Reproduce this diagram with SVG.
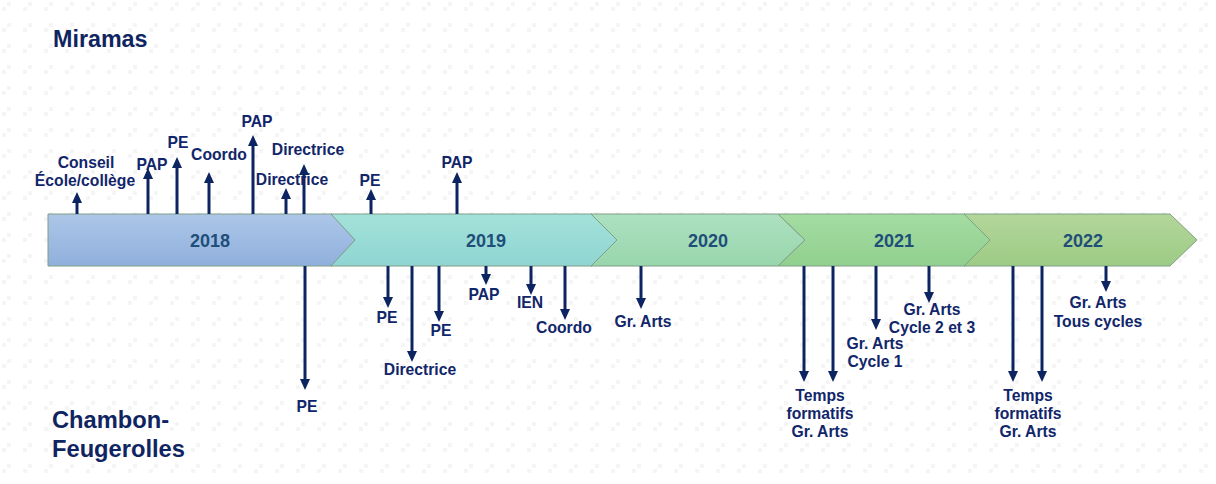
<svg xmlns="http://www.w3.org/2000/svg" width="1216" height="484" viewBox="0 0 1216 484">
<style>
.lbl{font-family:"Liberation Sans",Arial,sans-serif;font-weight:bold;font-size:15.7px;fill:#11266a;text-anchor:middle}
.yr{font-family:"Liberation Sans",Arial,sans-serif;font-weight:bold;font-size:18px;fill:#1f4e79;text-anchor:middle}
.site{font-family:"Liberation Sans",Arial,sans-serif;font-weight:bold;fill:#0f2561}
.arr{stroke:#0c2461;stroke-width:3;fill:none;marker-end:url(#ah)}
.seg{stroke:#7f9f86;stroke-width:1}
</style>
<defs>
<pattern id="bg" width="21" height="21" patternUnits="userSpaceOnUse">
<rect x="7" y="2" width="4" height="4" fill="#f5f5f5"/>
<rect x="2" y="7" width="4" height="4" fill="#f5f5f5"/>
</pattern>
<marker id="ah" viewBox="0 0 11 10" refX="2" refY="5" markerWidth="11" markerHeight="10" markerUnits="userSpaceOnUse" orient="auto">
<path d="M0,0 L11,5 L0,10 Z" fill="#0c2461"/>
</marker>
<linearGradient id="g18" x1="0" y1="0" x2="0" y2="1"><stop offset="0" stop-color="#adc6e8"/><stop offset="1" stop-color="#8fb0dc"/></linearGradient>
<linearGradient id="g19" x1="0" y1="0" x2="0" y2="1"><stop offset="0" stop-color="#a3e2da"/><stop offset="1" stop-color="#8fd5d2"/></linearGradient>
<linearGradient id="g20" x1="0" y1="0" x2="0" y2="1"><stop offset="0" stop-color="#ade0c0"/><stop offset="1" stop-color="#98d6ad"/></linearGradient>
<linearGradient id="g21" x1="0" y1="0" x2="0" y2="1"><stop offset="0" stop-color="#a5dca2"/><stop offset="1" stop-color="#90d08e"/></linearGradient>
<linearGradient id="g22" x1="0" y1="0" x2="0" y2="1"><stop offset="0" stop-color="#b3d69b"/><stop offset="1" stop-color="#9dcb84"/></linearGradient>
</defs>
<rect width="1216" height="484" fill="#ffffff"/>
<rect width="1216" height="484" fill="url(#bg)"/>

<g id="site-miramas"><text class="site" x="53" y="47" font-size="23.3">Miramas</text></g>
<g id="site-chambon"><text class="site" x="52" y="428" font-size="23.7">Chambon-</text><text class="site" x="52" y="457" font-size="23.7">Feugerolles</text></g>

<g id="y2018"><path class="seg" d="M48,214 L332,214 L355,240 L332,266 L48,266 Z" fill="url(#g18)"/><text class="yr" x="210" y="247">2018</text></g>
<g id="y2019"><path class="seg" d="M331,214 L592,214 L617,240 L592,266 L331,266 L355,240 Z" fill="url(#g19)"/><text class="yr" x="486" y="247">2019</text></g>
<g id="y2020"><path class="seg" d="M591,214 L778,214 L805,240 L778,266 L591,266 L617,240 Z" fill="url(#g20)"/><text class="yr" x="708" y="247">2020</text></g>
<g id="y2021"><path class="seg" d="M778,214 L965,214 L992,240 L965,266 L778,266 L805,240 Z" fill="url(#g21)"/><text class="yr" x="894" y="247">2021</text></g>
<g id="y2022"><path class="seg" d="M964,214 L1170,214 L1197,240 L1170,266 L964,266 L990,240 Z" fill="url(#g22)"/><text class="yr" x="1083" y="247">2022</text></g>

<g id="connectors">
<line class="arr" x1="77" y1="214" x2="77" y2="201"/>
<line class="arr" x1="148" y1="214" x2="148" y2="177"/>
<line class="arr" x1="177" y1="214" x2="177" y2="166"/>
<line class="arr" x1="209" y1="214" x2="209" y2="181"/>
<line class="arr" x1="253" y1="214" x2="253" y2="144"/>
<line class="arr" x1="286" y1="214" x2="286" y2="197"/>
<line class="arr" x1="304" y1="214" x2="304" y2="173"/>
<line class="arr" x1="371" y1="214" x2="371" y2="198"/>
<line class="arr" x1="457" y1="214" x2="457" y2="181"/>
<line class="arr" x1="305" y1="266" x2="305" y2="381"/>
<line class="arr" x1="388" y1="266" x2="388" y2="299"/>
<line class="arr" x1="412" y1="266" x2="412" y2="353"/>
<line class="arr" x1="439" y1="266" x2="439" y2="313"/>
<line class="arr" x1="486" y1="266" x2="486" y2="276"/>
<line class="arr" x1="531" y1="266" x2="531" y2="286"/>
<line class="arr" x1="565" y1="266" x2="565" y2="311"/>
<line class="arr" x1="641" y1="266" x2="641" y2="300"/>
<line class="arr" x1="804" y1="266" x2="804" y2="373"/>
<line class="arr" x1="833" y1="266" x2="833" y2="373"/>
<line class="arr" x1="876" y1="266" x2="876" y2="321"/>
<line class="arr" x1="929" y1="266" x2="929" y2="294"/>
<line class="arr" x1="1013" y1="266" x2="1013" y2="373"/>
<line class="arr" x1="1042" y1="266" x2="1042" y2="373"/>
<line class="arr" x1="1106" y1="266" x2="1106" y2="283"/>
</g>

<g id="n-conseil"><text class="lbl" x="86" y="168">Conseil</text><text class="lbl" x="85" y="186">École/collège</text></g>
<g id="n-pap1"><text class="lbl" x="152" y="170">PAP</text></g>
<g id="n-pe1"><text class="lbl" x="178" y="148">PE</text></g>
<g id="n-coordo1"><text class="lbl" x="219" y="160">Coordo</text></g>
<g id="n-pap2"><text class="lbl" x="257" y="127">PAP</text></g>
<g id="n-directrice1"><text class="lbl" x="308" y="155">Directrice</text></g>
<g id="n-directrice2"><text class="lbl" x="292" y="185">Directrice</text></g>
<g id="n-pe2"><text class="lbl" x="370" y="186">PE</text></g>
<g id="n-pap3"><text class="lbl" x="457" y="168">PAP</text></g>
<g id="n-pe-down1"><text class="lbl" x="307" y="412">PE</text></g>
<g id="n-pe-down2"><text class="lbl" x="387" y="323">PE</text></g>
<g id="n-directrice-down"><text class="lbl" x="420" y="375">Directrice</text></g>
<g id="n-pe-down3"><text class="lbl" x="441" y="336">PE</text></g>
<g id="n-pap-down"><text class="lbl" x="484" y="300">PAP</text></g>
<g id="n-ien"><text class="lbl" x="530" y="308">IEN</text></g>
<g id="n-coordo-down"><text class="lbl" x="564" y="333">Coordo</text></g>
<g id="n-grarts2020"><text class="lbl" x="643" y="327">Gr. Arts</text></g>
<g id="n-temps2021"><text class="lbl" x="820" y="401">Temps</text><text class="lbl" x="820" y="419">formatifs</text><text class="lbl" x="820" y="437">Gr. Arts</text></g>
<g id="n-cycle1"><text class="lbl" x="875" y="349">Gr. Arts</text><text class="lbl" x="875" y="367">Cycle 1</text></g>
<g id="n-cycle23"><text class="lbl" x="932" y="315">Gr. Arts</text><text class="lbl" x="932" y="333">Cycle 2 et 3</text></g>
<g id="n-temps2022"><text class="lbl" x="1028" y="401">Temps</text><text class="lbl" x="1028" y="419">formatifs</text><text class="lbl" x="1028" y="437">Gr. Arts</text></g>
<g id="n-tous"><text class="lbl" x="1098" y="308">Gr. Arts</text><text class="lbl" x="1098" y="327">Tous cycles</text></g>
</svg>
